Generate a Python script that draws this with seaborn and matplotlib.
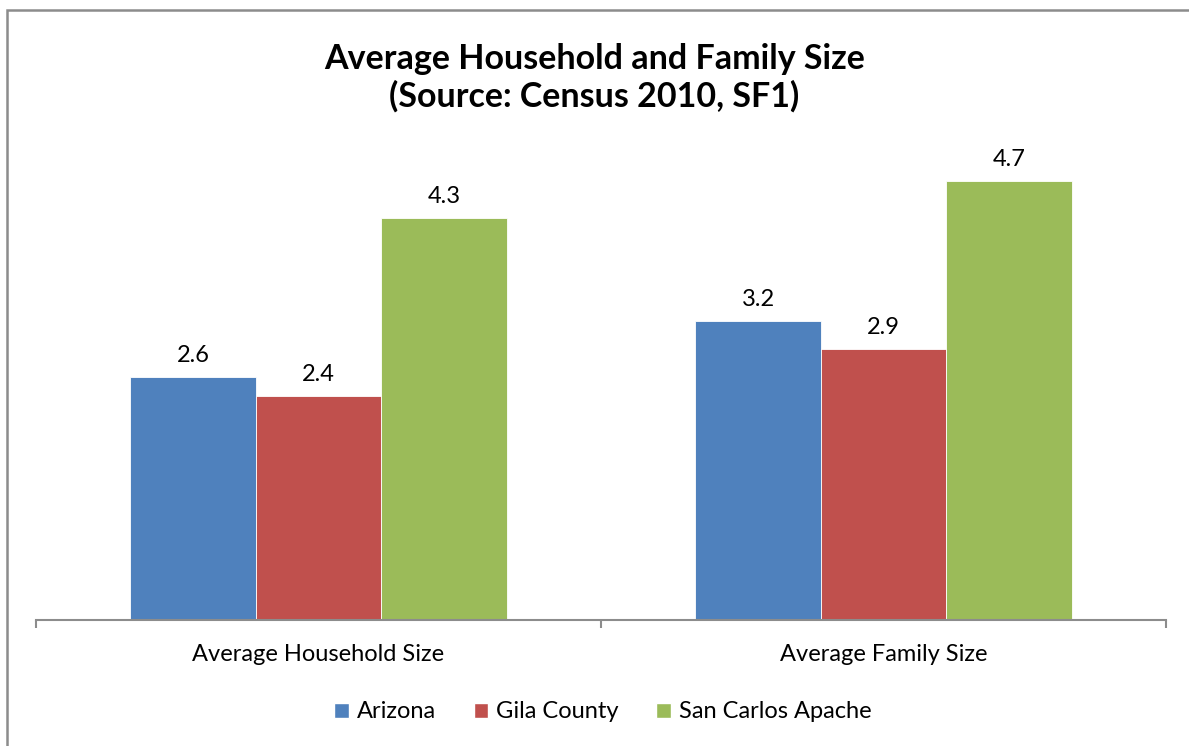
import pandas as pd
import matplotlib
matplotlib.use('Agg')
import matplotlib.pyplot as plt
import seaborn as sns
from matplotlib.patches import Rectangle, Patch

# data
categories = ['Average Household Size', 'Average Family Size']
places = ['Arizona', 'Gila County', 'San Carlos Apache']
arizona = [2.6, 3.2]
gila = [2.4, 2.9]
san_carlos = [4.3, 4.7]
colors = ['#4F81BD', '#C0504D', '#9BBB59']

df = pd.DataFrame({
    'category': categories * 3,
    'place': [p for p in places for _ in categories],
    'value': arizona + gila + san_carlos,
})

sns.set_style('white')
plt.rcParams['font.family'] = ['Lato', 'DejaVu Sans']
plt.rcParams['text.color'] = 'black'
plt.rcParams['xtick.color'] = 'black'

fig = plt.figure(figsize=(11.89, 7.46), dpi=100)
ax = fig.add_axes([36 / 1189, 1 - 620 / 746, (1166 - 36) / 1189, 467 / 746])

sns.barplot(data=df, x='category', y='value', hue='place', palette=colors,
            width=0.666, gap=0, ax=ax, legend=False, saturation=1,
            edgecolor='white', linewidth=0.6)

for c in ax.containers:
    ax.bar_label(c, fmt='%.1f', padding=8, fontsize=17, color='black')

ax.set_ylim(0, 5)
ax.set_xlim(-0.5, 1.5)
ax.set_yticks([])
ax.set_xlabel('')
ax.set_ylabel('')
for s in ['left', 'right', 'top']:
    ax.spines[s].set_visible(False)
ax.spines['bottom'].set_color('#8c8c8c')
ax.spines['bottom'].set_linewidth(1.5)

ax.set_xticks([-0.5, 0.5, 1.5])
ax.set_xticklabels([])
ax.tick_params(axis='x', which='major', length=6, width=1.5, color='#8c8c8c', bottom=True)
ax.set_xticks([0, 1], minor=True)
ax.set_xticklabels(categories, minor=True, fontsize=17, color='black')
ax.tick_params(axis='x', which='minor', length=0, pad=17)

fig.text(0.5, 1 - 78 / 746, 'Average Household and Family Size\n(Source: Census 2010, SF1)',
         ha='center', va='center', fontsize=24.5, fontweight='bold', linespacing=1.2,
         color='black')

handles = [Patch(facecolor=c, label=p) for c, p in zip(colors, places)]
fig.legend(handles=handles, loc='center', bbox_to_anchor=(603 / 1189, 1 - 712 / 746),
           ncol=3, frameon=False, fontsize=17, handlelength=0.6, handleheight=0.6,
           handletextpad=0.35, columnspacing=1.6)

# chart border (left and top visible)
fig.patches.append(Rectangle((7 / 1189, -0.1), 1.2, 1 - 10 / 746 + 0.1,
                             transform=fig.transFigure, fill=False,
                             edgecolor='#8c8c8c', linewidth=1.8))

fig.savefig('out.png', dpi=100)
